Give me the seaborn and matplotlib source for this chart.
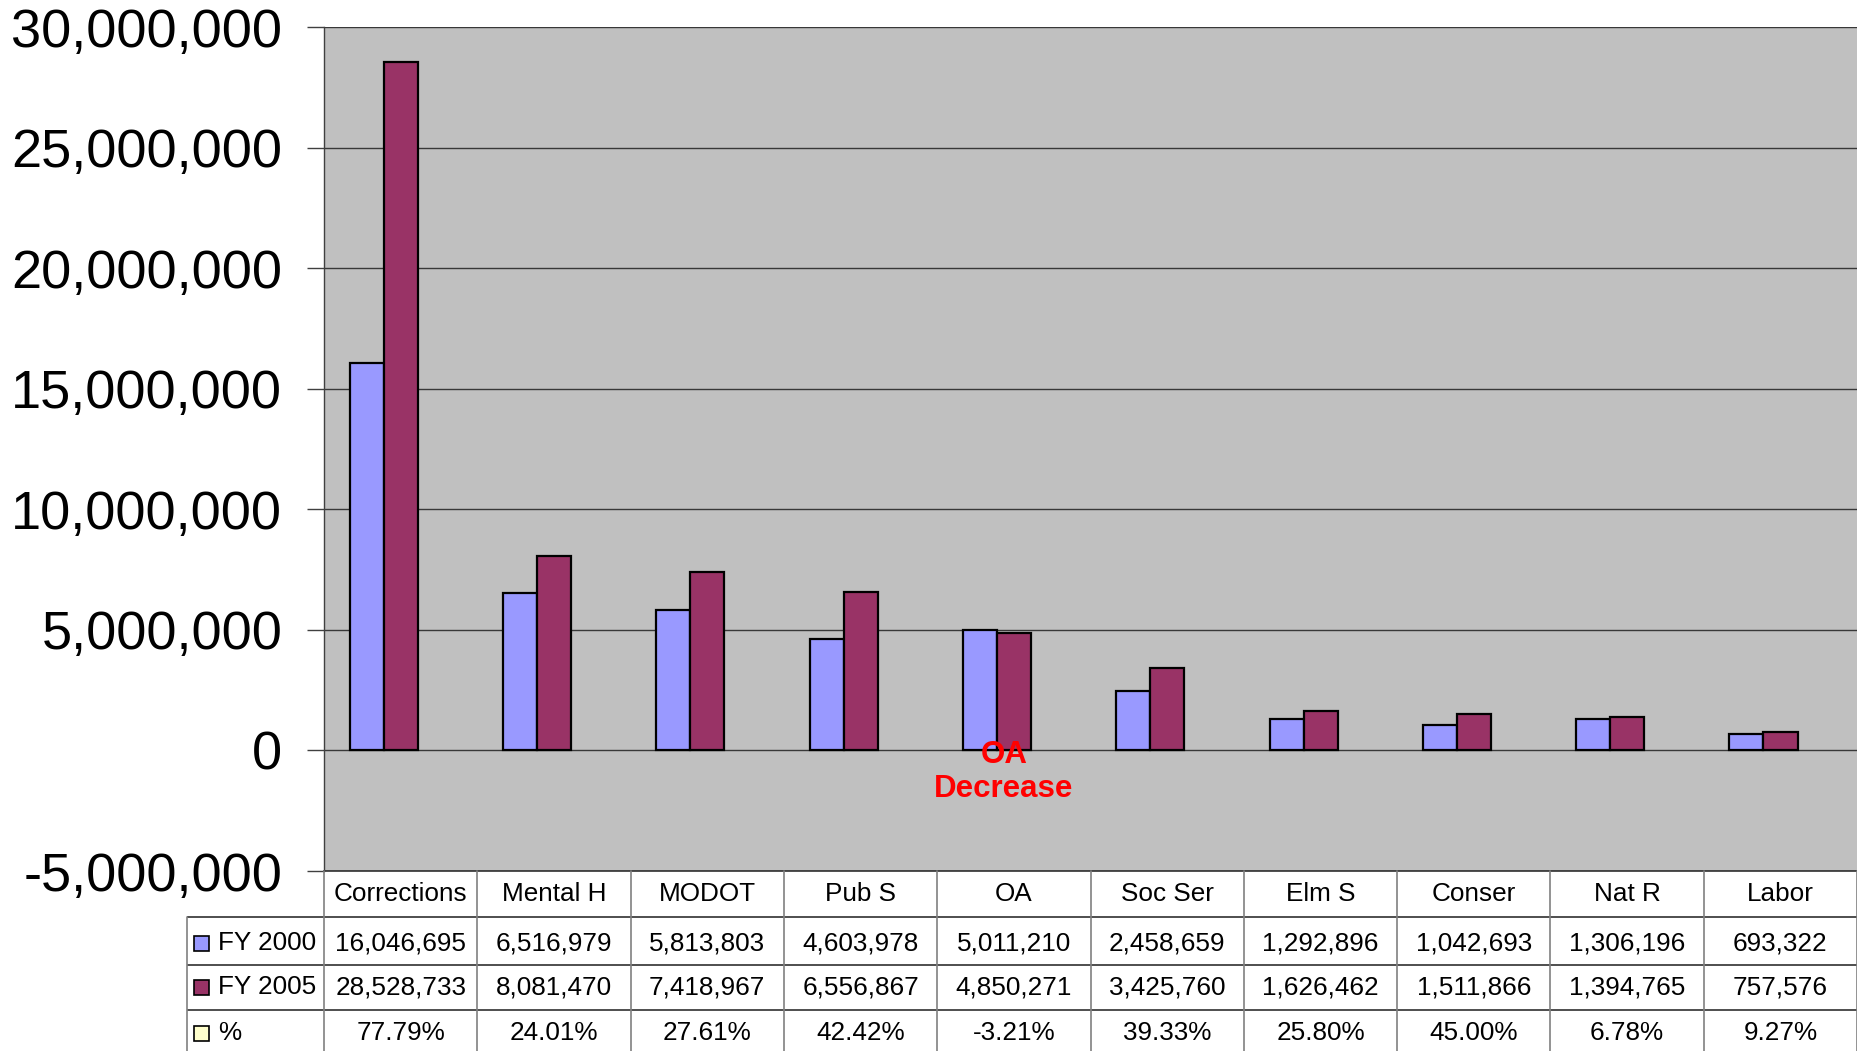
import matplotlib
matplotlib.use("Agg")
import matplotlib.pyplot as plt
import matplotlib.ticker as mticker
from matplotlib.patches import Rectangle
import seaborn as sns
import pandas as pd

# ---- data ----
categories = ["Corrections", "Mental H", "MODOT", "Pub S", "OA", "Soc Ser",
              "Elm S", "Conser", "Nat R", "Labor"]
fy2000 = [16046695, 6516979, 5813803, 4603978, 5011210, 2458659,
          1292896, 1042693, 1306196, 693322]
fy2005 = [28528733, 8081470, 7418967, 6556867, 4850271, 3425760,
          1626462, 1511866, 1394765, 757576]
pct_change = [77.79, 24.01, 27.61, 42.42, -3.21, 39.33, 25.80, 45.00, 6.78, 9.27]
series_names = ["FY 2000", "FY 2005", "%"]
series_colors = ["#9999FF", "#993366", "#FFFFCC"]
y_ticks = [-5000000, 0, 5000000, 10000000, 15000000, 20000000, 25000000, 30000000]
note_text = "OA\nDecrease"

df = pd.DataFrame({
    "category": categories * 2,
    "value": fy2000 + fy2005,
    "series": [series_names[0]] * len(categories) + [series_names[1]] * len(categories),
})

sns.set_theme(style="white")
plt.rcParams["font.family"] = ["Liberation Sans", "DejaVu Sans"]

W, H = 1857, 1051
fig = plt.figure(figsize=(W / 100, H / 100), dpi=100)
fig.patch.set_facecolor("white")

# plot area in pixel geometry
px_left, px_right, px_top, px_bottom = 324, 1857, 27, 871
ax = fig.add_axes([px_left / W, 1 - px_bottom / H, (px_right - px_left) / W,
                   (px_bottom - px_top) / H])
ax.set_facecolor("#C0C0C0")

sns.barplot(data=df, x="category", y="value", hue="series", order=categories,
            hue_order=series_names[:2], palette=series_colors[:2], width=0.444,
            edgecolor="black", linewidth=1.6, saturation=1, legend=False, ax=ax)

x0 = -0.39
ax.set_xlim(x0, x0 + len(categories))
ax.set_ylim(y_ticks[0], y_ticks[-1])
ax.set_yticks(y_ticks)
ax.yaxis.set_major_formatter(mticker.FuncFormatter(lambda v, p: f"{v:,.0f}"))
ax.grid(axis="y", color="#383838", linewidth=1.0)
ax.set_axisbelow(True)
ax.set_xticks([])
ax.set_xlabel("")
ax.set_ylabel("")
for s in ["top", "right"]:
    ax.spines[s].set_visible(False)
ax.spines["left"].set_color("#404040")
ax.spines["left"].set_linewidth(1.0)
ax.spines["bottom"].set_color("#303030")
ax.spines["bottom"].set_linewidth(1.2)
ax.tick_params(axis="y", which="major", direction="out", length=12, width=1.0,
               color="#404040", labelsize=39, pad=18, left=True, labelcolor="black")

ax.text(4.046, -0.9e6, note_text, color="#FF0000", fontsize=22.5, fontweight="bold",
        ha="center", va="center", zorder=5)

# ---- data table below the plot ----
tab_left = 187
tax = fig.add_axes([tab_left / W, 0, (W - tab_left) / W, (H - px_bottom) / H])
unit_px = (px_right - px_left) / len(categories)
tx0 = x0 - (px_left - tab_left) / unit_px
tax.set_xlim(tx0, x0 + len(categories))
tax.set_ylim(H, px_bottom)
tax.axis("off")

row_edges = [871, 917, 965, 1010, 1060]
line_h = "#303030"
line_v = "#808080"
# horizontal lines
for yv in row_edges[1:4]:
    tax.plot([tx0, x0 + len(categories)], [yv, yv], color=line_h, lw=1.2,
             clip_on=False, solid_capstyle="butt")
# vertical lines
tax.plot([tx0, tx0], [row_edges[1], H], color=line_v, lw=1.2, clip_on=False)
for i in range(len(categories) + 1):
    xv = x0 + i
    tax.plot([xv, xv], [row_edges[0], H], color=line_v, lw=1.2, clip_on=False)

fs = 18.8
for i, c in enumerate(categories):
    cx = x0 + i + 0.5
    tax.text(cx, (row_edges[0] + row_edges[1]) / 2, c, ha="center", va="center",
             fontsize=fs, color="black")
    tax.text(cx, (row_edges[1] + row_edges[2]) / 2 + 2, f"{fy2000[i]:,}", ha="center",
             va="center", fontsize=fs, color="black")
    tax.text(cx, (row_edges[2] + row_edges[3]) / 2, f"{fy2005[i]:,}", ha="center",
             va="center", fontsize=fs, color="black")
    tax.text(cx, (row_edges[3] + row_edges[4]) / 2 - 2, f"{pct_change[i]:.2f}%",
             ha="center", va="center", fontsize=fs, color="black")

sq = 15 / unit_px
sq_x = tx0 + (194 - tab_left) / unit_px
lab_x = tx0 + (218 - tab_left) / unit_px
for r, (name, col) in enumerate(zip(series_names, series_colors)):
    yc = (row_edges[r + 1] + row_edges[r + 2]) / 2
    if r == 0:
        yc += 2
    if r == 2:
        yc -= 2
    tax.add_patch(Rectangle((sq_x, yc - 7.5), sq, 15, facecolor=col,
                            edgecolor="black", lw=1.2, clip_on=False))
    tax.text(lab_x, yc, name, ha="left", va="center", fontsize=fs, color="black")

fig.savefig("out.png", dpi=100)
